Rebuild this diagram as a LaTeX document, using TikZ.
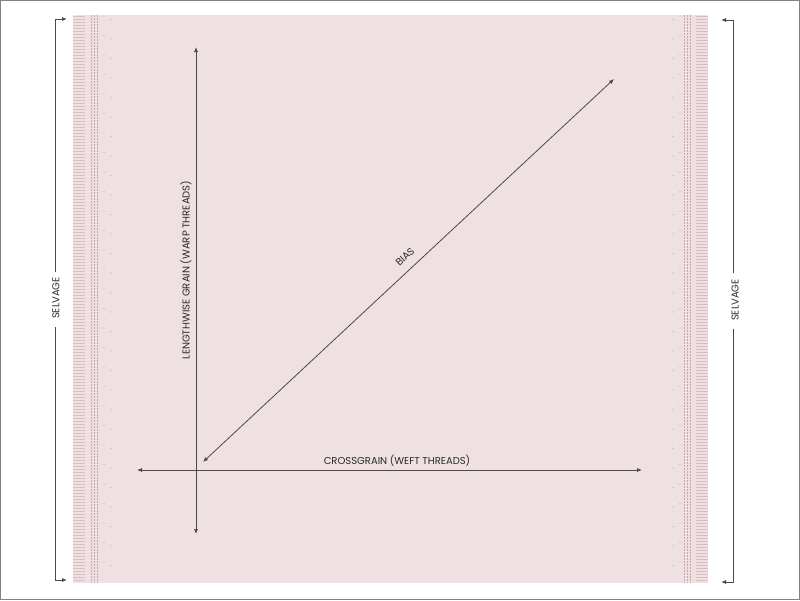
\documentclass[tikz,border=0pt]{standalone}
\usepackage{fontspec}
\setmainfont{Poppins}
\usetikzlibrary{arrows.meta}
\definecolor{fabric}{HTML}{EFE0E1}
\definecolor{fringe}{HTML}{DABDC1}
\definecolor{thread}{HTML}{C9A6AC}
\definecolor{ink}{HTML}{4A4A4A}
\definecolor{txt}{HTML}{2A2A2A}
\tikzset{
  grainline/.style={draw=ink, line width=0.8pt, {Latex[length=5pt,width=4pt]}-{Latex[length=5pt,width=4pt]}},
  bracketline/.style={draw=ink, line width=0.8pt, -{Latex[length=5pt,width=4pt]}},
  lbl/.style={font=\fontsize{10}{12}\selectfont, text=txt, inner sep=0.5pt},
  fringeline/.style={draw=fringe, line width=1pt},
  threadline/.style={draw=thread, line width=0.6pt, dash pattern=on 2pt off 1pt},
  dot/.style={fill=thread, draw=none}
}
\begin{document}
\begin{tikzpicture}[x=1pt,y=-1pt]
\useasboundingbox (0,0) rectangle (800,600);
\draw[gray, line width=0.8pt] (0.5,0.5) rectangle (799.5,599.5);
% fabric
\fill[fabric] (73,15) rectangle (708,583);
% fringes
\foreach \y in {16,19,...,582} {
  \draw[fringeline] (73,\y) -- (85,\y);
  \draw[fringeline] (696,\y) -- (708,\y);
}
% thread lines
\foreach \x in {91,94,97,684,687,690} {
  \draw[threadline] (\x,15) -- (\x,583);
}
% dots
\foreach \y in {16,35.5,...,580} {
  \fill[dot] (104,\y) circle (0.6);
  \fill[dot] (111,\y+3.5) circle (0.6);
  \fill[dot] (680,\y) circle (0.6);
  \fill[dot] (673,\y+3.5) circle (0.6);
}
% left selvage
\node[lbl, rotate=90] (selL) at (56,298) {SELVAGE};
\coordinate (lTopBreak) at (55,272);
\coordinate (lBotBreak) at (55,327);
\coordinate (lTopTip) at (67,19);
\coordinate (lBotTip) at (67,580);
\draw[bracketline] (lTopBreak) |- (lTopTip);
\draw[bracketline] (lBotBreak) |- (lBotTip);
% right selvage
\node[lbl, rotate=90] (selR) at (735,300) {SELVAGE};
\coordinate (rTopBreak) at (733,273);
\coordinate (rBotBreak) at (733,329);
\coordinate (rTopTip) at (721,20);
\coordinate (rBotTip) at (721,582);
\draw[bracketline] (rTopBreak) |- (rTopTip);
\draw[bracketline] (rBotBreak) |- (rBotTip);
% lengthwise grain
\coordinate (lgTop) at (196,47);
\coordinate (lgBot) at (196,534);
\draw[grainline] (lgTop) -- (lgBot);
\node[lbl, rotate=90] (lgText) at (186,270) {LENGTHWISE GRAIN (WARP THREADS)};
% crossgrain
\coordinate (cgL) at (137,470);
\coordinate (cgR) at (642,470);
\draw[grainline] (cgL) -- (cgR);
\node[lbl] (cgText) at (397,461) {CROSSGRAIN (WEFT THREADS)};
% bias
\coordinate (bA) at (203,462);
\coordinate (bB) at (614,79);
\draw[grainline] (bA) -- (bB);
\node[lbl, rotate=43] (biasText) at (405,257) {BIAS};
\end{tikzpicture}
\end{document}
